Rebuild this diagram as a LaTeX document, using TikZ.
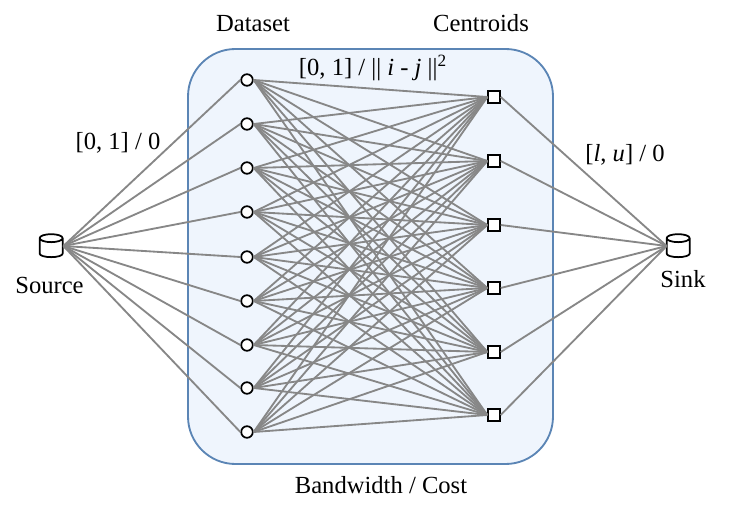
\documentclass[tikz,border=0pt]{standalone}
\usepackage{fontspec}
\setmainfont{Liberation Serif}
\usetikzlibrary{positioning}
\definecolor{boxfill}{HTML}{EFF5FD}
\definecolor{boxline}{HTML}{5B85B5}
\begin{document}
\begin{tikzpicture}[
  font=\fontsize{14}{16}\selectfont,
  flowbox/.style={draw=boxline, line width=1.05pt, fill=boxfill, rounded corners=27pt,
                  minimum width=7.3cm, minimum height=8.3cm, inner sep=0pt},
  point/.style={circle, draw=black, line width=1pt, fill=white, minimum size=6.6pt, inner sep=0pt},
  centroid/.style={rectangle, draw=black, line width=1pt, fill=white, minimum size=6.6pt, inner sep=0pt},
  terminal/.style={rectangle, minimum width=0.46cm, minimum height=0.46cm, inner sep=0pt},
  can/.style={draw=black, line width=1pt, fill=white, line join=round},
  arr/.style={draw=black!47, line width=1.05pt},
  lab/.style={inner sep=1.5pt}
]
\useasboundingbox (0,0) rectangle (14.7,10.16);
% ----- flow network background -----
\node[flowbox] (net) at (7.41,5.03) {};
% ----- source, sink -----
\node[terminal] (source) at (1.03,5.24) {};
\node[terminal] (sink)   at (13.57,5.24) {};
\foreach \t in {source,sink}{
  \draw[can] ([yshift=-0.08cm]\t.north west)
    arc[start angle=180, end angle=-180, x radius=0.23, y radius=0.08]
    -- ++(0,-0.31) arc[start angle=180, end angle=360, x radius=0.23, y radius=0.07] -- ++(0,0.31);
}
% ----- dataset points -----
\foreach \n/\y in {1/8.56, 2/7.68, 3/6.80, 4/5.92, 5/5.02, 6/4.14, 7/3.26, 8/2.40, 9/1.52}{
  \node[point] (d\n) at (4.94,\y) {};
}
% ----- centroids -----
\foreach \n/\y in {1/8.22, 2/6.94, 3/5.66, 4/4.40, 5/3.12, 6/1.86}{
  \node[centroid] (c\n) at (9.88,\y) {};
}
% ----- edges -----
\foreach \i in {1,...,9}{
  \draw[arr] (source.east) -- (d\i.west);
  \foreach \j in {1,...,6}{\draw[arr] (d\i.east) -- (c\j.west);}
}
\foreach \j in {1,...,6}{\draw[arr] (c\j.east) -- (sink.west);}
% ----- labels -----
\node[lab] (dataset)   at (5.06,9.68) {Dataset};
\node[lab] (centroids) at (9.62,9.70) {Centroids};
\node[lab] (srclab)    at (0.99,4.46) {Source};
\node[lab] (snklab)    at (13.66,4.58) {Sink};
\node[lab] (inlab)     at (2.36,7.30) {[0, 1] / 0};
\node[lab] (outlab)    at (12.50,7.06) {[\textit{l}, \textit{u}] / 0};
\node[lab] (costlab)   at (7.46,8.80) {[0, 1] / || \textit{i} - \textit{j} ||\textsuperscript{2}};
\node[lab] (netlab)    at (7.62,0.46) {Bandwidth / Cost};
\end{tikzpicture}
\end{document}
